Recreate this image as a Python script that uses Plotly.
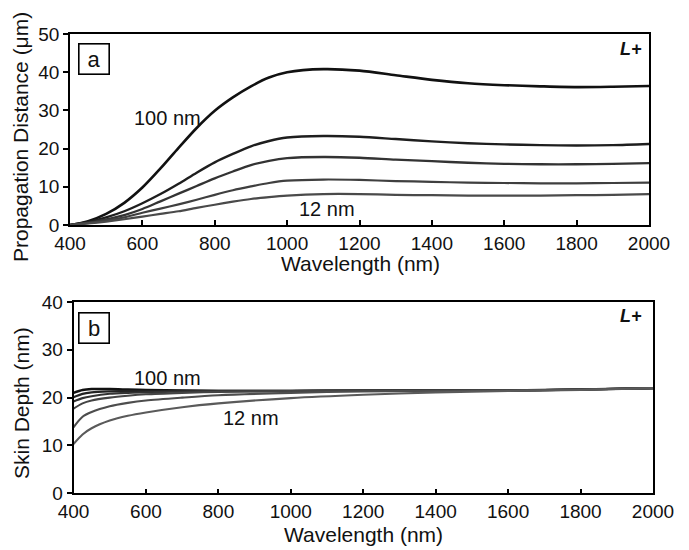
import plotly.graph_objects as go

W, H = 689, 550

# ---- Panel a: propagation distance (um) ----
wl_a = [400, 450, 500, 550, 600, 650, 700, 750, 800, 850, 900, 950, 1000,
        1100, 1200, 1300, 1400, 1500, 1600, 1700, 1800, 1900, 2000]
prop_100 = [0, 1.0, 2.9, 5.8, 9.8, 14.8, 20.2, 25.4, 29.9, 33.4, 36.3, 38.6, 40.0,
            40.8, 40.4, 39.2, 38.0, 37.1, 36.6, 36.3, 36.1, 36.2, 36.4]
prop_2 = [0, 0.8, 2.0, 3.6, 5.7, 8.1, 10.8, 13.7, 16.4, 18.6, 20.6, 22.0, 22.9,
          23.3, 23.1, 22.5, 21.9, 21.4, 21.1, 20.9, 20.8, 20.9, 21.2]
prop_3 = [0, 0.6, 1.5, 2.6, 4.2, 6.2, 8.2, 10.2, 12.2, 14.0, 15.7, 16.8, 17.5,
          17.8, 17.6, 17.1, 16.7, 16.3, 16.0, 15.9, 15.9, 16.0, 16.2]
prop_4 = [0, 0.5, 1.2, 2.0, 3.2, 4.3, 5.4, 6.6, 7.9, 9.1, 10.1, 11.0, 11.6,
          11.9, 11.8, 11.5, 11.3, 11.1, 11.0, 10.9, 10.9, 11.0, 11.1]
prop_12 = [0, 0.4, 0.9, 1.5, 2.2, 2.9, 3.6, 4.5, 5.3, 6.1, 6.8, 7.3, 7.7,
           8.1, 8.1, 7.9, 7.8, 7.7, 7.7, 7.7, 7.8, 7.9, 8.1]
series_a = [prop_100, prop_2, prop_3, prop_4, prop_12]

# ---- Panel b: skin depth (nm) ----
wl_b = [400, 425, 450, 500, 550, 600, 700, 800, 1000, 1200, 1400, 1600, 1800, 2000]
skin_100 = [21.0, 21.6, 21.8, 21.8, 21.7, 21.6, 21.5, 21.4, 21.4, 21.5, 21.5, 21.5, 21.7, 22.0]
skin_2 = [20.1, 20.8, 21.1, 21.3, 21.4, 21.4, 21.4, 21.4, 21.4, 21.5, 21.5, 21.5, 21.7, 22.0]
skin_3 = [19.2, 19.9, 20.3, 20.8, 21.0, 21.1, 21.3, 21.4, 21.4, 21.5, 21.5, 21.5, 21.7, 22.0]
skin_4 = [17.7, 18.8, 19.4, 20.0, 20.4, 20.7, 21.0, 21.2, 21.4, 21.5, 21.5, 21.5, 21.7, 22.0]
skin_5 = [13.8, 16.0, 17.0, 18.2, 18.9, 19.4, 20.0, 20.5, 21.0, 21.3, 21.4, 21.5, 21.7, 22.0]
skin_12 = [10.3, 12.3, 13.6, 15.2, 16.2, 16.9, 18.0, 18.8, 19.9, 20.6, 21.1, 21.4, 21.6, 22.0]
series_b = [skin_100, skin_2, skin_3, skin_4, skin_5, skin_12]

x_ticks = [400, 600, 800, 1000, 1200, 1400, 1600, 1800, 2000]

colors_a = ["#111111", "#1e1e1e", "#333333", "#3f3f3f", "#4a4a4a"]
widths_a = [2.6, 2.4, 2.3, 2.2, 2.2]
colors_b = ["#111111", "#222222", "#333333", "#444444", "#4d4d4d", "#5a5a5a"]
widths_b = [2.4, 2.2, 2.1, 2.1, 2.1, 2.1]

FONT = "Liberation Sans, Arial, Helvetica, sans-serif"

fig = go.Figure()
for ys, c, w in zip(series_a, colors_a, widths_a):
    fig.add_trace(go.Scatter(x=wl_a, y=ys, mode="lines", xaxis="x", yaxis="y",
                             line=dict(color=c, width=w, shape="spline", smoothing=0.8),
                             showlegend=False, hoverinfo="skip"))
for ys, c, w in zip(series_b, colors_b, widths_b):
    fig.add_trace(go.Scatter(x=wl_b, y=ys, mode="lines", xaxis="x2", yaxis="y2",
                             line=dict(color=c, width=w, shape="spline", smoothing=0.8),
                             showlegend=False, hoverinfo="skip"))

def px_x(p):
    return p / W

def px_y(p):
    return 1 - p / H

axis_common = dict(showline=True, mirror=True, linecolor="black", linewidth=1.6,
                   showgrid=False, zeroline=False, color="black",
                   tickfont=dict(family=FONT, size=19, color="#111"))

fig.update_layout(
    width=W, height=H,
    margin=dict(l=0, r=0, t=0, b=0, autoexpand=False),
    paper_bgcolor="white", plot_bgcolor="white",
    font=dict(family=FONT, color="#111"),
    xaxis=dict(domain=[px_x(70), px_x(649)], anchor="y", range=[400, 2000],
               tickvals=x_ticks, ticks="inside", ticklen=5, tickwidth=1.5,
               **axis_common),
    yaxis=dict(domain=[px_y(225), px_y(34)], anchor="x", range=[0, 50],
               dtick=10, ticks="outside", ticklen=5, tickwidth=1.5,
               **axis_common),
    xaxis2=dict(domain=[px_x(73.5), px_x(653)], anchor="y2", range=[400, 2000],
                tickvals=x_ticks, ticks="inside", ticklen=5, tickwidth=1.5,
                **axis_common),
    yaxis2=dict(domain=[px_y(493.3), px_y(302)], anchor="x2", range=[0, 40],
                dtick=10, ticks="outside", ticklen=5, tickwidth=1.5,
                **axis_common),
)

C = dict(xanchor="center", yanchor="middle", showarrow=False)
ann = []
# axis titles
ann.append(dict(text="Propagation Distance (μm)", xref="paper", yref="paper",
                x=px_x(21), y=px_y(137), textangle=-90,
                font=dict(family=FONT, size=21, color="#111"), **C))
ann.append(dict(text="Skin Depth (nm)", xref="paper", yref="paper",
                x=px_x(21), y=px_y(403), textangle=-90,
                font=dict(family=FONT, size=21, color="#111"), **C))
ann.append(dict(text="Wavelength (nm)", xref="paper", yref="paper",
                x=px_x(360), y=px_y(263),
                font=dict(family=FONT, size=21, color="#111"), **C))
ann.append(dict(text="Wavelength (nm)", xref="paper", yref="paper",
                x=px_x(363), y=px_y(534),
                font=dict(family=FONT, size=21, color="#111"), **C))
# panel labels
for lab, cy in (("a", 59.5), ("b", 327.5)):
    ann.append(dict(text=lab, xref="paper", yref="paper", x=px_x(94.5), y=px_y(cy),
                    width=27, height=27, borderwidth=1.6,
                    bordercolor="black", borderpad=1, bgcolor="white",
                    font=dict(family=FONT, size=22, color="#111"), **C))
# L+ labels
for cy in (49, 316):
    ann.append(dict(text="<b><i>L+</i></b>", xref="paper", yref="paper",
                    x=px_x(631), y=px_y(cy),
                    font=dict(family=FONT, size=18, color="#111"), **C))
# curve labels
ann.append(dict(text="100 nm", xref="x", yref="y", x=669, y=28.0,
                font=dict(family=FONT, size=20, color="#111"), **C))
ann.append(dict(text="12 nm", xref="x", yref="y", x=1111, y=4.2,
                font=dict(family=FONT, size=20, color="#111"), **C))
ann.append(dict(text="100 nm", xref="x2", yref="y2", x=659, y=24.1,
                font=dict(family=FONT, size=20, color="#111"), **C))
ann.append(dict(text="12 nm", xref="x2", yref="y2", x=890, y=15.8,
                font=dict(family=FONT, size=20, color="#111"), **C))
fig.update_layout(annotations=ann)

fig.write_html("out.html")
